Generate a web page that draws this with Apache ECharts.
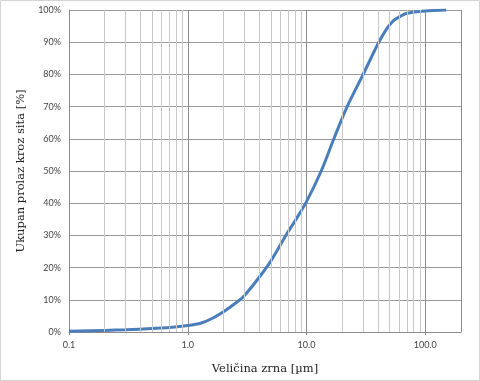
<!DOCTYPE html>
<html>
<head>
<meta charset="utf-8">
<script src="https://cdn.jsdelivr.net/npm/echarts@6/dist/echarts.min.js"></script>
<style>
html,body{margin:0;padding:0;background:#fff;}
#chart{width:480px;height:381px;}
</style>
</head>
<body>
<div id="chart"></div>
<script>
// Grain size (µm) and cumulative passing (%)
const grainSizes = [0.1, 0.2, 0.3, 0.5, 0.7, 1.0, 1.3, 1.6, 2.0, 2.7, 3.0, 4.0, 5.0, 6.7, 8.0, 10, 13.3, 17, 22, 30, 40, 47, 54, 62, 70, 100, 150];
const passing    = [0.2, 0.5, 0.7, 1.1, 1.4, 2.0, 2.8, 4.2, 6.3, 9.8, 11.3, 17.0, 22.0, 30.0, 34.5, 40.5, 50, 60, 70, 80, 89.5, 94, 96.7, 98.1, 99, 99.7, 100];
// minor log grid positions
const minorGrid = [0.2,0.3,0.4,0.5,0.6,0.7,0.8,0.9, 2,3,4,5,6,7,8,9, 20,30,40,50,60,70,80,90];
const xTitle = 'Veličina zrna [µm]';
const yTitle = 'Ukupan prolaz kroz sita [%]';

const chart = echarts.init(document.getElementById('chart'), null, {renderer: 'canvas'});
const option = {
  animation: false,
  backgroundColor: '#fff',
  graphic: [{
    type: 'rect', z: 0, silent: true,
    shape: {x: 0.5, y: 0.5, width: 479, height: 380},
    style: {fill: 'none', stroke: '#d4d4d4', lineWidth: 1}
  }],
  grid: {left: 69, right: 19, top: 10, bottom: 49, containLabel: false},
  xAxis: {
    type: 'log', logBase: 10, min: 0.1, max: 200,
    name: xTitle, nameLocation: 'middle', nameGap: 31,
    nameTextStyle: {fontFamily: 'DejaVu Serif', fontSize: 11.5, color: '#222'},
    axisLine: {show: true, lineStyle: {color: '#8c8c8c', width: 1}},
    axisTick: {show: true, length: 3, lineStyle: {color: '#8c8c8c'}},
    axisLabel: {
      showMaxLabel: false, margin: 9,
      fontFamily: 'Lato', fontSize: 9, color: '#444',
      formatter: v => Number(v).toFixed(1)
    },
    splitLine: {show: true, lineStyle: {color: '#8c8c8c', width: 1}}
  },
  yAxis: {
    type: 'value', min: 0, max: 100, interval: 10,
    name: yTitle, nameLocation: 'middle', nameGap: 42, nameRotate: 90,
    nameTextStyle: {fontFamily: 'DejaVu Serif', fontSize: 11.5, color: '#222'},
    axisLine: {show: true, lineStyle: {color: '#8c8c8c', width: 1}},
    axisTick: {show: false},
    axisLabel: {
      margin: 8, fontFamily: 'Lato', fontSize: 9, color: '#444',
      formatter: '{value}%'
    },
    splitLine: {show: true, lineStyle: {color: '#9a9a9a', width: 1}}
  },
  series: [
    {
      type: 'line', z: 1, silent: true,
      data: [[1, 0]], symbol: 'none', lineStyle: {width: 0, opacity: 0},
      markLine: {
        silent: true, symbol: ['none', 'none'], animation: false,
        label: {show: false},
        lineStyle: {color: '#c8c8c8', width: 1, type: 'solid'},
        emphasis: {disabled: true},
        data: minorGrid.map(v => ({xAxis: v}))
      }
    },
    {
      type: 'line', z: 3,
      data: grainSizes.map((s, i) => [s, passing[i]]),
      smooth: 0.3, symbol: 'none',
      lineStyle: {color: '#4a7ebb', width: 3}
    }
  ]
};
chart.setOption(option);
</script>
</body>
</html>
